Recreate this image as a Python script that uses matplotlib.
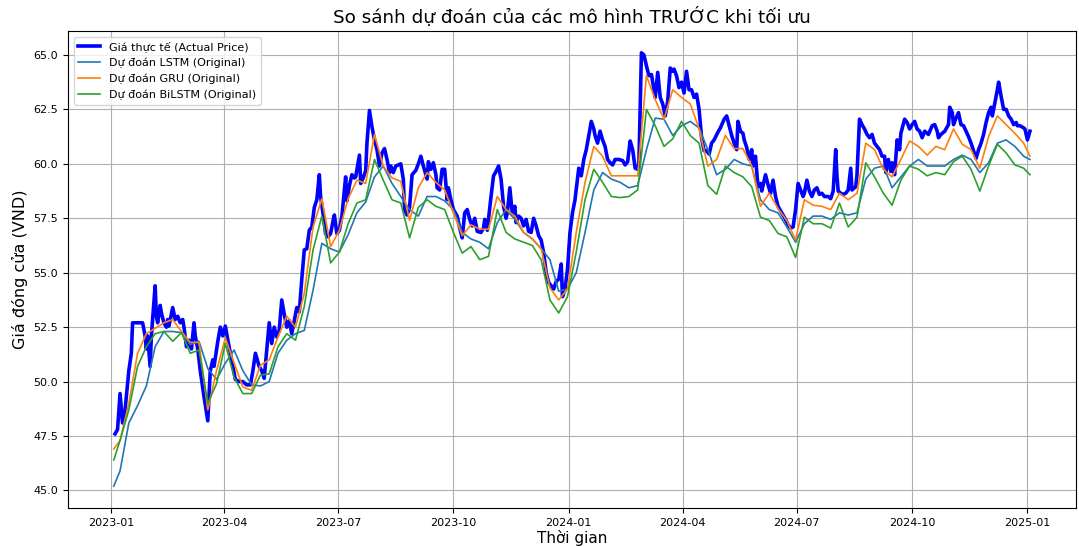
import numpy as np
import pandas as pd
import matplotlib
matplotlib.use('Agg')
import matplotlib.pyplot as plt
import matplotlib.dates as mdates

plt.rcParams['font.family'] = ['DejaVu Sans']

# ngày tính từ 2023-01-01, giá thực tế
act_day = [
    3, 5, 7, 9, 11, 14, 16, 17, 25, 27,
    28, 29, 31, 32, 35, 36, 37, 39, 40, 42,
    44, 45, 46, 49, 51, 53, 55, 57, 58, 60,
    62, 64, 66, 67, 69, 71, 74, 77, 79, 81,
    82, 85, 87, 89, 91, 94, 96, 99, 102, 105,
    108, 111, 113, 115, 118, 120, 122, 126, 128, 130,
    132, 134, 136, 138, 140, 142, 144, 146, 148, 150,
    152, 154, 156, 158, 160, 162, 164, 166, 167, 169,
    171, 173, 175, 177, 178, 180, 182, 184, 187, 188,
    190, 192, 194, 195, 198, 199, 201, 203, 204, 206,
    208, 210, 212, 214, 216, 218, 220, 222, 223, 225,
    227, 229, 231, 233, 234, 236, 238, 240, 243, 245,
    247, 249, 252, 253, 255, 257, 259, 260, 262, 264,
    266, 268, 269, 271, 273, 276, 278, 280, 282, 284,
    286, 288, 290, 292, 295, 297, 298, 300, 303, 305,
    307, 309, 311, 313, 315, 316, 318, 320, 322, 323,
    325, 327, 329, 331, 333, 335, 337, 339, 341, 343,
    345, 347, 349, 351, 353, 355, 357, 359, 360, 362,
    364, 366, 368, 370, 373, 375, 377, 379, 383, 385,
    386, 388, 390, 392, 394, 396, 398, 400, 402, 405,
    408, 410, 412, 414, 416, 418, 420, 421, 423, 425,
    427, 429, 431, 433, 434, 436, 438, 440, 442, 444,
    446, 448, 449, 451, 453, 455, 457, 459, 461, 463,
    465, 467, 469, 471, 473, 475, 477, 479, 481, 484,
    486, 489, 491, 493, 495, 497, 499, 500, 502, 504,
    505, 507, 509, 511, 512, 514, 516, 518, 519, 522,
    524, 526, 528, 530, 532, 535, 538, 540, 542, 544,
    546, 548, 549, 552, 553, 555, 557, 559, 561, 563,
    565, 567, 569, 572, 574, 576, 578, 579, 580, 582,
    584, 586, 588, 590, 591, 594, 595, 597, 599, 601,
    603, 605, 607, 609, 611, 613, 615, 617, 618, 620,
    622, 623, 625, 627, 629, 630, 633, 635, 637, 639,
    641, 643, 645, 647, 649, 651, 652, 655, 657, 659,
    660, 662, 665, 666, 668, 669, 671, 672, 674, 676,
    678, 680, 682, 684, 686, 688, 690, 692, 694, 696,
    698, 700, 702, 703, 705, 707, 708, 710, 712, 714,
    716, 718, 720, 722, 723, 725, 728, 729, 731, 733,
]
act_price = [
    47.6, 47.8, 49.45, 48.1, 48.7, 50.5, 51.3, 52.7, 52.7, 52.1,
    51.5, 52.1, 50.7, 52.1, 54.4, 53.0, 52.7, 53.5, 53.15, 52.7,
    52.5, 52.85, 52.55, 53.4, 52.85, 53.0, 52.7, 52.85, 52.5, 51.6,
    51.9, 51.5, 52.7, 52.1, 51.5, 50.5, 49.3, 48.2, 50.5, 51.0,
    50.7, 51.85, 52.5, 52.1, 52.55, 51.6, 51.0, 50.1, 50.0, 50.0,
    49.85, 49.85, 50.5, 51.3, 50.7, 50.5, 50.15, 52.7, 51.75, 52.5,
    52.05, 52.35, 53.75, 53.1, 52.5, 52.8, 52.2, 52.8, 53.4, 53.2,
    54.7, 56.05, 56.1, 56.95, 57.1, 58.0, 58.35, 59.5, 58.5, 57.7,
    56.8, 56.65, 56.8, 57.4, 57.65, 56.8, 56.95, 57.6, 59.4, 58.3,
    59.0, 59.5, 59.35, 59.4, 60.4, 59.1, 59.35, 59.7, 60.95, 62.45,
    61.7, 61.1, 60.65, 59.9, 60.5, 60.7, 60.2, 59.6, 59.9, 59.6,
    59.9, 59.95, 60.0, 59.3, 57.9, 57.65, 58.0, 59.5, 59.7, 60.0,
    60.35, 59.9, 59.3, 60.1, 59.75, 60.05, 59.5, 58.9, 58.8, 59.75,
    59.75, 58.35, 58.9, 58.35, 57.9, 57.6, 57.05, 56.6, 57.75, 57.9,
    57.45, 57.15, 57.5, 56.9, 56.85, 57.05, 57.45, 56.95, 58.5, 59.45,
    59.65, 59.9, 59.3, 58.05, 57.5, 57.75, 58.9, 57.7, 58.05, 57.3,
    57.6, 57.5, 57.15, 57.45, 56.9, 56.85, 57.5, 57.15, 56.7, 56.5,
    55.9, 55.0, 54.55, 54.4, 54.25, 54.6, 54.7, 55.4, 53.9, 54.25,
    55.15, 56.85, 57.75, 58.35, 59.8, 59.45, 60.2, 60.65, 61.95, 61.6,
    61.3, 60.95, 61.5, 61.1, 60.8, 60.2, 60.05, 59.95, 60.2, 60.2,
    60.15, 59.95, 60.1, 61.05, 60.65, 59.8, 59.75, 60.05, 65.1, 65.0,
    64.5, 64.05, 64.1, 63.4, 63.05, 64.2, 63.05, 62.75, 62.2, 62.9,
    64.4, 64.25, 64.35, 64.05, 63.5, 63.75, 63.25, 64.25, 63.4, 63.4,
    63.05, 63.2, 62.5, 61.2, 60.6, 60.6, 60.45, 60.95, 61.1, 61.45,
    61.65, 62.05, 62.2, 61.75, 61.3, 60.95, 60.65, 61.95, 61.5, 61.4,
    61.1, 60.75, 60.2, 60.65, 59.9, 60.35, 58.95, 59.1, 58.75, 59.5,
    59.05, 58.65, 59.25, 58.5, 58.05, 57.75, 57.45, 57.2, 57.05, 57.1,
    57.9, 59.1, 58.95, 58.5, 58.65, 59.25, 58.75, 58.5, 58.8, 58.9,
    58.6, 58.65, 58.5, 58.5, 58.4, 58.75, 60.65, 59.45, 58.75, 58.65,
    58.6, 58.65, 58.8, 59.8, 58.8, 58.95, 59.5, 62.05, 61.8, 61.6,
    61.35, 61.2, 61.35, 60.95, 60.8, 60.65, 60.35, 60.35, 59.6, 60.2,
    59.65, 60.05, 59.5, 61.1, 60.65, 61.4, 62.05, 61.9, 61.6, 61.8,
    61.95, 61.6, 61.5, 61.2, 61.5, 61.4, 61.35, 61.75, 61.8, 61.5,
    61.2, 61.35, 61.5, 61.6, 61.8, 62.6, 62.35, 61.8, 62.1, 62.35,
    61.8, 61.75, 61.5, 61.25, 60.95, 60.6, 60.25, 60.65, 60.95, 61.35,
    61.9, 62.35, 62.6, 62.2, 62.8, 63.4, 63.75, 63.1, 62.5, 62.5,
    62.2, 62.05, 61.8, 61.9, 61.75, 61.75, 61.65, 61.6, 61.1, 61.5,
]

# các mốc đọc cho dự đoán (ngày tính từ 2023-01-01)
pred_day = [
    2, 7, 14, 21, 28, 35, 42, 49, 56, 63,
    70, 77, 84, 91, 98, 105, 112, 119, 126, 133,
    140, 147, 154, 161, 168, 175, 182, 189, 196, 203,
    210, 217, 224, 231, 238, 245, 252, 259, 266, 273,
    280, 287, 294, 301, 308, 315, 322, 329, 336, 343,
    350, 357, 364, 371, 378, 385, 392, 399, 406, 413,
    420, 427, 434, 441, 448, 455, 462, 469, 476, 483,
    490, 497, 504, 511, 518, 525, 532, 539, 546, 553,
    560, 567, 574, 581, 588, 595, 602, 609, 616, 623,
    630, 637, 644, 651, 658, 665, 672, 679, 686, 693,
    700, 707, 714, 721, 728, 733,
]
lstm_pred = [
    45.2, 45.9, 48.1, 48.9, 49.8, 51.6, 52.3, 52.3, 52.25, 51.7,
    51.85, 50.6, 50.1, 50.85, 51.45, 50.5, 49.85, 49.8, 50.0, 51.3,
    51.9, 52.2, 52.35, 54.2, 56.35, 56.1, 55.95, 56.75, 57.75, 58.25,
    59.4, 59.9, 59.1, 58.5, 57.9, 57.6, 58.5, 58.5, 58.3, 57.9,
    56.85, 56.55, 56.4, 56.1, 57.3, 57.9, 57.45, 56.85, 56.55, 56.1,
    55.6, 54.15, 54.25, 55.0, 56.85, 58.8, 59.6, 59.3, 59.15, 58.9,
    59.0, 60.65, 62.1, 62.05, 61.3, 61.75, 61.95, 61.65, 60.65, 59.5,
    59.75, 60.2, 60.0, 59.9, 58.35, 57.9, 57.75, 57.1, 56.4, 57.25,
    57.6, 57.6, 57.45, 57.75, 57.65, 57.75, 59.3, 59.8, 59.9, 58.9,
    59.4, 59.9, 60.2, 59.9, 59.9, 59.9, 60.2, 60.4, 60.2, 59.6,
    60.05, 60.95, 61.1, 60.8, 60.35, 60.2,
]
gru_pred = [
    46.9, 47.3, 49.0, 51.3, 52.2, 52.45, 52.7, 52.85, 52.3, 51.8,
    51.8, 48.7, 50.5, 52.0, 50.85, 49.75, 49.6, 50.75, 51.0, 52.05,
    53.0, 52.5, 54.05, 57.1, 58.4, 56.2, 56.95, 58.4, 59.25, 59.1,
    61.35, 59.9, 59.35, 59.2, 57.4, 58.9, 59.6, 59.15, 58.8, 57.75,
    56.7, 57.2, 57.0, 57.0, 58.5, 57.9, 57.6, 56.85, 56.55, 56.1,
    54.3, 53.75, 54.25, 56.85, 59.15, 60.8, 60.35, 59.45, 59.45, 59.45,
    59.45, 64.05, 62.95, 62.05, 63.4, 63.05, 62.75, 61.6, 59.9, 60.2,
    61.3, 60.7, 60.7, 59.9, 58.05, 58.65, 57.95, 57.4, 56.5, 58.35,
    58.1, 58.05, 57.9, 58.65, 58.35, 58.65, 60.95, 60.65, 59.75, 59.4,
    60.2, 61.05, 60.8, 60.4, 60.8, 60.65, 61.6, 60.9, 60.65, 59.8,
    61.25, 62.2, 61.8, 61.4, 60.95, 60.35,
]
bilstm_pred = [
    46.4, 47.3, 48.7, 50.7, 51.6, 52.2, 52.3, 51.85, 52.25, 51.3,
    51.45, 49.0, 49.9, 51.75, 50.2, 49.45, 49.45, 50.3, 50.35, 51.6,
    52.2, 51.9, 53.45, 56.05, 57.6, 55.45, 55.95, 57.25, 58.2, 58.35,
    60.2, 59.25, 58.35, 58.2, 56.6, 58.0, 58.35, 58.05, 57.9, 56.85,
    55.9, 56.2, 55.6, 55.75, 57.9, 56.85, 56.55, 56.4, 56.25, 55.6,
    53.75, 53.15, 53.9, 55.95, 58.35, 59.75, 59.15, 58.5, 58.45, 58.5,
    58.8, 62.5, 61.75, 60.8, 61.15, 61.95, 61.3, 60.95, 59.0, 58.6,
    59.9, 59.6, 59.4, 58.95, 57.55, 57.4, 56.8, 56.65, 55.7, 57.55,
    57.25, 57.25, 57.05, 58.2, 57.1, 57.55, 60.05, 59.4, 58.65, 58.1,
    59.25, 59.9, 59.75, 59.45, 59.6, 59.5, 60.1, 60.35, 59.75, 58.75,
    59.9, 60.9, 60.5, 59.95, 59.8, 59.5,
]

start = pd.Timestamp('2023-01-01')
act_dates = start + pd.to_timedelta(act_day, unit='D')
pred_dates = start + pd.to_timedelta(pred_day, unit='D')

fig, ax = plt.subplots(figsize=(10.79, 5.46), dpi=100)
fig.subplots_adjust(left=0.063, right=0.997, top=0.943, bottom=0.07)

ax.plot(act_dates, act_price, color='blue', linewidth=2.6, label='Giá thực tế (Actual Price)')
ax.plot(pred_dates, lstm_pred, color='tab:blue', linewidth=1.2, label='Dự đoán LSTM (Original)')
ax.plot(pred_dates, gru_pred, color='tab:orange', linewidth=1.2, label='Dự đoán GRU (Original)')
ax.plot(pred_dates, bilstm_pred, color='tab:green', linewidth=1.2, label='Dự đoán BiLSTM (Original)')

ax.set_title('So sánh dự đoán của các mô hình TRƯỚC khi tối ưu', fontsize=13.25)
ax.set_xlabel('Thời gian', fontsize=11, labelpad=2)
ax.set_ylabel('Giá đóng cửa (VND)', fontsize=11.5)
ax.xaxis.set_major_locator(mdates.MonthLocator(bymonth=[1, 4, 7, 10]))
ax.xaxis.set_major_formatter(mdates.DateFormatter('%Y-%m'))
ax.tick_params(labelsize=8)
ax.grid(True)
ax.legend(loc='upper left', fontsize=8)

plt.savefig('out.png', dpi=100)
